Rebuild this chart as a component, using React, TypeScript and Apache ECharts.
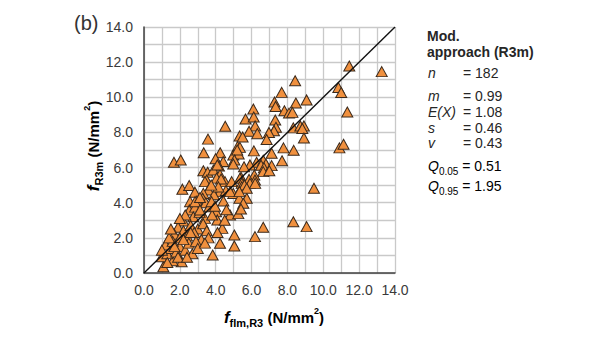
import React, { useEffect, useRef } from "react";
import * as echarts from "echarts";

// Measured flexural strength f_flm,R3 (x) and residual strength f_R3m (y), N/mm²
const fFlmR3 = [
  11.45, 13.26, 8.43, 10.84, 11.0, 7.68, 9.07, 7.28, 7.34, 8.47,
  6.1, 7.83, 8.09, 8.28, 11.34, 5.66, 6.12, 7.32, 4.53, 6.2,
  5.86, 6.32, 7.36, 7.25, 6.97, 8.33, 8.72, 8.92, 8.83, 8.92,
  5.33, 5.5, 6.84, 3.57, 5.22, 5.35, 7.78, 8.35, 10.9, 11.13,
  6.13, 3.33, 4.25, 4.98, 5.28, 5.2, 7.12, 1.67, 2.05, 3.99,
  5.04, 4.98, 4.42, 6.28, 6.65, 6.8, 7.7, 5.91, 5.58, 4.18,
  6.53, 6.69, 7.12, 3.31, 3.55, 3.87, 4.24, 6.65, 6.99, 6.15,
  5.41, 5.86, 6.19, 3.5, 4.52, 4.89, 5.35, 5.45, 5.91, 6.2,
  4.09, 3.4, 4.05, 4.3, 2.14, 2.52, 2.84, 3.59, 3.31, 4.24,
  4.57, 4.98, 5.45, 5.6, 5.32, 5.73, 9.48, 5.73, 4.8, 5.32,
  2.57, 3.27, 2.95, 3.45, 3.9, 5.54, 4.15, 3.75, 2.53, 2.85,
  3.64, 4.02, 4.8, 5.26, 5.41, 2.19, 2.75, 3.4, 4.09, 3.1,
  2.3, 3.8, 4.37, 8.33, 9.07, 6.65, 6.19, 5.04, 5.04, 4.24,
  3.83, 4.1, 1.9, 2.2, 2.6, 3.0, 3.3, 1.7, 2.0, 2.4,
  2.8, 3.5, 3.6, 3.2, 1.08, 2.1, 0.99, 1.6, 1.3, 1.5,
  1.8, 2.0, 2.3, 1.2, 1.6, 2.5, 2.7, 1.9, 2.9, 1.4,
  2.2, 1.0, 3.0, 2.85, 3.12, 3.77, 4.43, 3.12, 3.96, 2.0,
  4.5, 1.5, 2.6, 1.7, 2.4, 1.3, 3.4, 4.6,
];
const fR3m = [
  11.78, 11.46, 10.94, 10.56, 10.27, 10.28, 9.85, 9.73, 9.48, 9.67,
  9.33, 9.23, 9.1, 9.14, 9.16, 8.76, 8.88, 8.71, 8.35, 8.37,
  8.07, 7.93, 8.29, 8.1, 8.0, 8.26, 8.37, 8.37, 8.22, 7.68,
  7.8, 7.74, 7.6, 7.62, 7.19, 7.15, 7.12, 6.98, 7.12, 7.33,
  6.95, 6.84, 6.84, 6.72, 6.77, 7.0, 6.81, 6.3, 6.43, 6.5,
  6.43, 6.2, 6.34, 6.3, 6.42, 6.2, 6.39, 6.15, 6.05, 6.09,
  6.13, 5.99, 6.11, 5.82, 5.73, 5.86, 5.6, 5.77, 5.82, 5.58,
  5.45, 5.33, 5.29, 5.29, 5.2, 5.2, 5.39, 5.1, 5.1, 5.1,
  6.15, 5.2, 5.4, 5.35, 4.77, 4.98, 4.6, 4.72, 4.53, 4.63,
  4.69, 4.53, 4.91, 5.01, 4.25, 4.25, 4.82, 4.82, 4.63, 4.63,
  4.06, 4.25, 4.1, 4.0, 4.45, 3.97, 4.9, 5.0, 3.59, 3.75,
  3.77, 3.49, 3.3, 3.38, 3.64, 2.96, 3.2, 3.11, 3.02, 3.45,
  3.3, 3.3, 2.54, 2.92, 2.64, 2.6, 2.07, 2.16, 1.54, 1.69,
  1.02, 2.3, 2.6, 2.4, 2.7, 2.5, 2.8, 2.2, 2.0, 2.1,
  2.3, 2.4, 2.0, 1.9, 0.36, 0.64, 0.93, 0.7, 1.1, 1.4,
  1.2, 1.5, 1.3, 1.6, 1.8, 1.7, 1.1, 0.9, 1.8, 2.0,
  1.9, 1.3, 1.4, 4.06, 4.3, 4.06, 4.1, 3.59, 3.8, 3.1,
  3.0, 2.5, 2.3, 1.5, 0.9, 0.6, 1.7, 3.6,
];
// Line of equality
const equalityLine = [0, 14];
const axisMin = 0;
const axisMax = 14;

// Statistics panel
const statTitle = ["Mod.", "approach (R3m)"];
const statNames = ["n", "m", "E(X)", "s", "v"];
const statValues = ["= 182", "= 0.99", "= 1.08", "= 0.46", "= 0.43"];
const quantileNames = ["0.05", "0.95"];
const quantileValues = ["= 0.51", "= 1.95"];

const FONT = "'Liberation Sans', Arial, Helvetica, sans-serif";
const TXT = "#262626";

export default function App() {
  const ref = useRef<HTMLDivElement>(null);

  useEffect(() => {
    if (!ref.current) return;
    const chart = echarts.init(ref.current, null, { renderer: "svg" });

    const points = fFlmR3.map((x, i) => [x, fR3m[i]]);
    const statY = [73, 96, 112, 128, 143];
    const qY = [166, 186];

    const titleRich = {
      f: { fontSize: 17, fontWeight: "bold", fontStyle: "italic", fontFamily: FONT, color: TXT, lineHeight: 22 },
      sub: { fontSize: 11, fontWeight: "bold", fontFamily: FONT, color: TXT, verticalAlign: "bottom", lineHeight: 12 },
      t: { fontSize: 15, fontWeight: "bold", fontFamily: FONT, color: TXT, lineHeight: 22 },
      sup: { fontSize: 9, fontWeight: "bold", fontFamily: FONT, color: TXT, verticalAlign: "top", lineHeight: 12 },
    };

    const graphics: any[] = [
      {
        type: "text",
        left: 74,
        top: 13,
        style: { text: "(b)", fontSize: 20, fontFamily: FONT, fill: "#333" },
      },
      {
        type: "text",
        x: 93,
        y: 146,
        rotation: Math.PI / 2,
        style: {
          text: "{f|f}{sub|R3m}{t| (N/mm}{sup|2}{t|)}",
          rich: titleRich,
          align: "center",
          verticalAlign: "middle",
        },
      },
      {
        type: "text",
        x: 274,
        y: 317,
        style: {
          text: "{f|f}{sub|flm,R3}{t| (N/mm}{sup|2}{t|)}",
          rich: titleRich,
          align: "center",
          verticalAlign: "middle",
        },
      },
    ];

    statTitle.forEach((t, i) => {
      graphics.push({
        type: "text",
        x: 427,
        y: 36 + i * 16,
        style: { text: t, fontSize: 14, fontWeight: "bold", fontFamily: FONT, fill: TXT, verticalAlign: "middle" },
      });
    });
    statNames.forEach((n, i) => {
      graphics.push({
        type: "text",
        x: 428,
        y: statY[i],
        style: { text: n, fontSize: 14, fontStyle: "italic", fontFamily: FONT, fill: TXT, verticalAlign: "middle" },
      });
      graphics.push({
        type: "text",
        x: 463,
        y: statY[i],
        style: { text: statValues[i], fontSize: 14, fontFamily: FONT, fill: TXT, verticalAlign: "middle" },
      });
    });
    quantileNames.forEach((q, i) => {
      graphics.push({
        type: "text",
        x: 428,
        y: qY[i],
        style: {
          text: `{q|Q}{s|${q}}{v| ${quantileValues[i]}}`,
          verticalAlign: "middle",
          rich: {
            q: { fontSize: 14, fontStyle: "italic", fontFamily: FONT, color: TXT, lineHeight: 20 },
            s: { fontSize: 10, fontFamily: FONT, color: TXT, verticalAlign: "bottom", lineHeight: 12 },
            v: { fontSize: 14, fontFamily: FONT, color: TXT, lineHeight: 20 },
          },
        },
      });
    });

    const axisCommon = {
      type: "value" as const,
      min: axisMin,
      max: axisMax,
      interval: 1,
      axisTick: { show: false },
      axisLine: { show: true, lineStyle: { color: "#404040", width: 1.5 } },
      splitLine: { show: true, lineStyle: { color: "#c9c9c9", width: 1.3 } },
    };

    chart.setOption({
      animation: false,
      backgroundColor: "#ffffff",
      grid: { left: 144, right: 215, top: 27, bottom: 70, containLabel: false },
      xAxis: {
        ...axisCommon,
        axisLabel: {
          margin: 10,
          fontSize: 14,
          fontFamily: FONT,
          color: "#3a3a3a",
          formatter: (v: number) => (v % 2 === 0 ? v.toFixed(1) : ""),
        },
      },
      yAxis: {
        ...axisCommon,
        axisLabel: {
          margin: 11,
          fontSize: 14,
          fontFamily: FONT,
          color: "#3a3a3a",
          formatter: (v: number) => (v % 2 === 0 ? v.toFixed(1) : ""),
        },
      },
      series: [
        {
          type: "scatter",
          data: points,
          symbol: "triangle",
          symbolSize: [11, 10],
          itemStyle: { color: "#F0903E", borderColor: "#3b2a1c", borderWidth: 1, opacity: 1 },
          z: 2,
        },
        {
          type: "line",
          data: equalityLine.map((v) => [v, v]),
          symbol: "none",
          lineStyle: { color: "#111", width: 1.4 },
          z: 3,
        },
      ],
      graphic: graphics,
    });

    return () => chart.dispose();
  }, []);

  return (
    <div
      ref={ref}
      style={{ position: "fixed", left: 0, top: 0, width: 610, height: 343, background: "#fff" }}
    />
  );
}
